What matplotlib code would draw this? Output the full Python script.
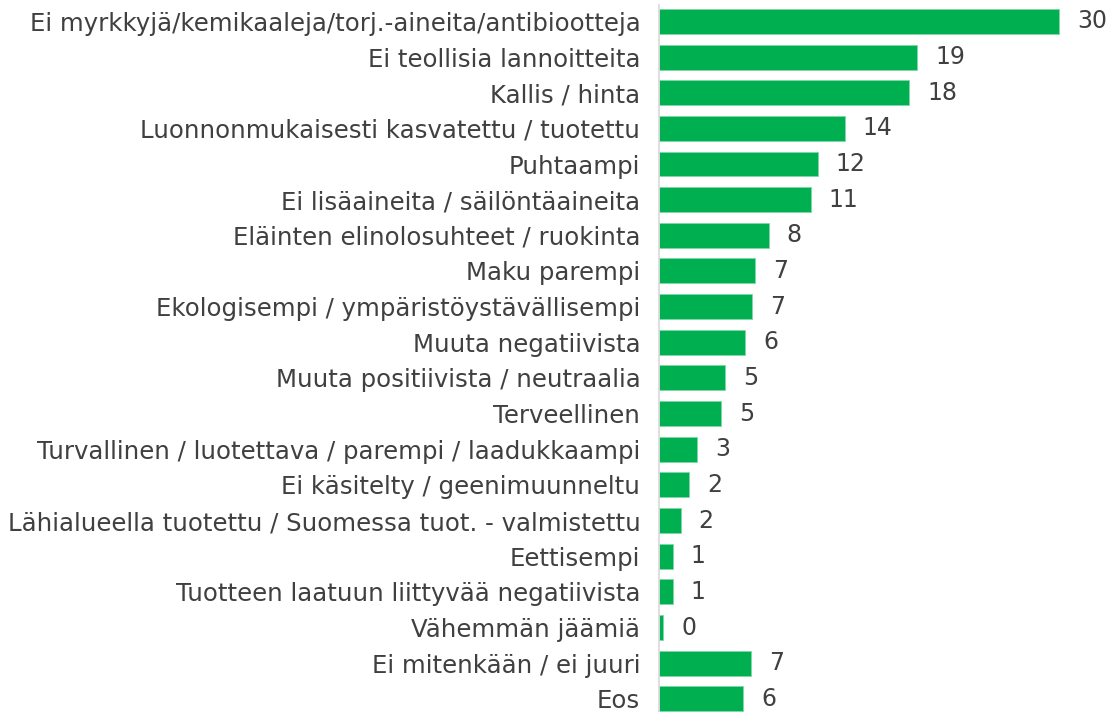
import matplotlib
matplotlib.use("Agg")
import matplotlib.pyplot as plt

plt.rcParams["font.family"] = ["DejaVu Sans"]

categories = [
    "Ei myrkkyjä/kemikaaleja/torj.-aineita/antibiootteja",
    "Ei teollisia lannoitteita",
    "Kallis / hinta",
    "Luonnonmukaisesti kasvatettu / tuotettu",
    "Puhtaampi",
    "Ei lisäaineita / säilöntäaineita",
    "Eläinten elinolosuhteet / ruokinta",
    "Maku parempi",
    "Ekologisempi / ympäristöystävällisempi",
    "Muuta negatiivista",
    "Muuta positiivista / neutraalia",
    "Terveellinen",
    "Turvallinen / luotettava / parempi / laadukkaampi",
    "Ei käsitelty / geenimuunneltu",
    "Lähialueella tuotettu / Suomessa tuot. - valmistettu",
    "Eettisempi",
    "Tuotteen laatuun liittyvää negatiivista",
    "Vähemmän jäämiä",
    "Ei mitenkään / ei juuri",
    "Eos",
]
values = [29.55, 19.05, 18.45, 13.7, 11.7, 11.2, 8.1, 7.1, 6.9, 6.35,
          4.9, 4.6, 2.8, 2.2, 1.6, 1.0, 1.0, 0.3, 6.8, 6.2]

W, H = 1109, 712
fig = plt.figure(figsize=(W / 100, H / 100), dpi=100)
ax = fig.add_axes([659 / W, 0, 1 - 659 / W, 1])

green = "#00B050"
text_col = "#404040"
y = list(range(len(categories)))
bars = ax.barh(y, values, height=0.7, color=green, edgecolor="#7fd8a7", linewidth=0.6)

ax.set_xlim(0, (W - 659) / 13.55)
ax.set_ylim(19.37, -0.6)
ax.set_yticks(y)
ax.set_yticklabels(categories, fontsize=17.6, color=text_col)
ax.tick_params(axis="y", length=0, pad=13.5)
ax.set_xticks([])
for s in ["top", "right", "bottom"]:
    ax.spines[s].set_visible(False)
ax.spines["left"].set_color("#d9d9d9")
ax.spines["left"].set_linewidth(1.2)
ax.spines["left"].set_bounds(-0.46, 19.37)

for b, v in zip(bars, values):
    ax.annotate(f"{v:.0f}", xy=(b.get_width(), b.get_y() + b.get_height() / 2),
                xytext=(18, 0), textcoords="offset pixels",
                ha="left", va="center", fontsize=17, color=text_col)

fig.savefig("out.png", dpi=100)
